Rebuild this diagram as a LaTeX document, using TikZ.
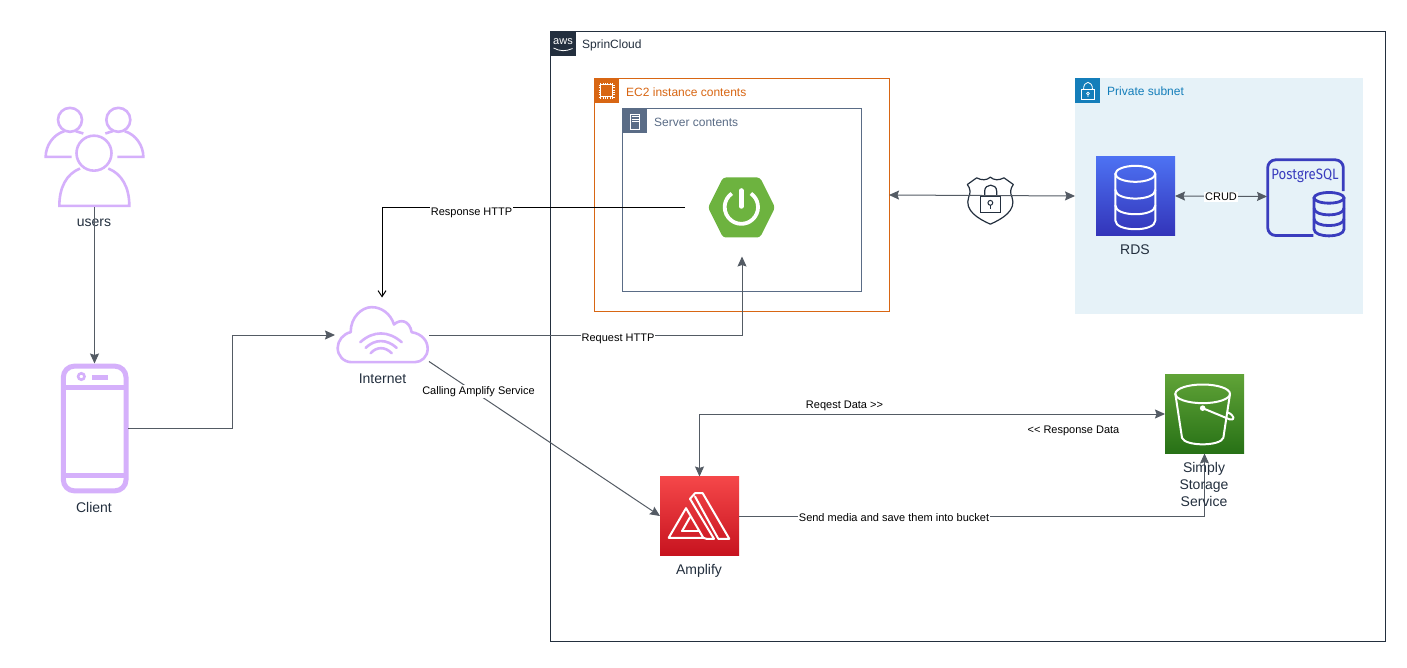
\documentclass[tikz,border=0pt]{standalone}
\usepackage{fontspec}
\setmainfont{Liberation Sans}
\newfontfamily\pgfont{Fira Sans}
\usetikzlibrary{arrows.meta}
\definecolor{lilac}{HTML}{D5B0FB}
\definecolor{edgec}{HTML}{545B64}
\definecolor{awsc}{HTML}{232F3E}
\definecolor{ec2c}{HTML}{D86613}
\definecolor{srvc}{HTML}{5A6C86}
\definecolor{subc}{HTML}{147EBA}
\definecolor{subbg}{HTML}{E6F2F8}
\definecolor{pgc}{HTML}{3A3DBE}
\definecolor{springc}{HTML}{6DB33F}
\newcommand{\fs}[1]{\fontsize{#1}{#1}\selectfont}
\tikzset{
  zoomat/.style 2 args={x=.33333pt,y=-.33333pt,xshift=#1pt,yshift=-#2pt},
  box/.style 2 args={inner sep=0pt,outer sep=0pt,minimum width=#1,minimum height=#2},
  label/.style={inner sep=0pt,text=awsc,font=\fs{14},align=center},
  elabel/.style={inner sep=1pt,text=black,font=\fs{11}},
  whitelabel/.style={elabel,fill=white},
  conn/.style={draw=edgec,line width=1pt,-{Stealth[length=10pt,width=9pt,inset=1.5pt]}},
  conn2/.style={draw=edgec,line width=1pt,{Stealth[length=10pt,width=9pt,inset=1.5pt]}-{Stealth[length=10pt,width=9pt,inset=1.5pt]}},
  respconn/.style={draw=black,line width=1pt,-{Straight Barb[length=6pt,width=8pt]}},
  lilacline/.style={draw=lilac,line width=2.6pt},
  whiteline/.style={draw=white,line width=2pt,line join=round,line cap=round},
  pgline/.style={draw=pgc,line width=2.8pt},
  groupbox/.style={draw=#1,line width=1pt,fill=none},
  tag/.style={minimum size=25pt,inner sep=0pt,outer sep=0pt,anchor=north west,fill=#1},
  grouptitle/.style={anchor=west,inner sep=0pt,font=\fs{12}}
}
\begin{document}
\begin{tikzpicture}[x=1pt,y=-1pt]
\useasboundingbox (0,-0.5) rectangle (1407,667.5);
\fill[white] (0,-0.5) rectangle (1407,667.5);

% ---- groups
\node[box={835pt}{610pt},groupbox=awsc] (aws) at (967.5,336) {};
\node[tag=awsc] (awstag) at (550.5,31) {};
\node[grouptitle,text=awsc] (awstitle) at (582,45) {SprinCloud};
\node[inner sep=0pt,text=white,font=\fs{11}] (awslogo) at (563,41) {aws};
\draw[white,line width=.8pt] (553.5,47.5) .. controls (560,51) and (566,51) .. (572.5,48);

\node[box={295pt}{233pt},groupbox=ec2c] (ec2) at (741.5,194.5) {};
\node[tag=ec2c] (ec2tag) at (594,78) {};
\node[grouptitle,text=ec2c] (ec2title) at (626,91.5) {EC2 instance contents};
\draw[white,line width=1pt] (600.5,84.5) rectangle (612.5,96.5);
\foreach \p in {0,2.4,4.8,7.2,9.6,12}{
  \draw[white,line width=.5pt] (600.5+\p,82.5) -- (600.5+\p,84.5) (600.5+\p,96.5) -- (600.5+\p,98.5)
    (598.5,84.5+\p) -- (600.5,84.5+\p) (612.5,84.5+\p) -- (614.5,84.5+\p);}

\node[box={239pt}{183pt},groupbox=srvc] (server) at (741.5,199.5) {};
\node[tag=srvc] (servertag) at (622,108) {};
\node[grouptitle,text=srvc] (servertitle) at (654,121.5) {Server contents};
\draw[white,line width=.8pt] (630.5,113.5) rectangle (639.5,129);
\foreach \p in {116,118.5,121}{\draw[white,line width=.6pt] (631.5,\p) -- (638.5,\p);}

\node[box={288pt}{235pt},fill=subbg] (subnet) at (1219,195.5) {};
\node[tag=subc] (subnettag) at (1075,78) {};
\node[grouptitle,text=subc] (subnettitle) at (1107,90.5) {Private subnet};
\draw[white,line width=.8pt] (1081.5,89) rectangle (1094.5,98.5);
\draw[white,line width=.8pt] (1083.5,89) .. controls (1083.5,79.5) and (1092.5,79.5) .. (1092.5,89);
\draw[white,line width=.7pt] (1088,93) circle (1.3pt) (1088,94.3) -- (1088,96.5);

% ---- icon nodes (bounding boxes)
\node[box={99pt}{100pt}] (users) at (94.5,157) {};
\node[box={67pt}{130pt}] (client) at (94.5,428) {};
\node[box={94pt}{57pt}] (internet) at (382,334.5) {};
\node[box={114pt}{98pt}] (spring) at (742,207) {};
\node[box={79pt}{79pt},shade,top color={rgb,255:red,245;green,71;blue,73},bottom color={rgb,255:red,199;green,19;blue,31}] (amplify) at (699.5,515.5) {};
\node[box={79pt}{79pt},shade,top color={rgb,255:red,96;green,163;blue,55},bottom color={rgb,255:red,39;green,113;blue,22}] (s3) at (1204.5,413.5) {};
\node[box={79pt}{79pt},shade,top color={rgb,255:red,77;green,114;blue,243},bottom color={rgb,255:red,51;green,52;blue,185}] (rds) at (1135.5,195.5) {};
\node[box={78pt}{78pt}] (pg) at (1306,196) {};

% ---- users icon
\begin{scope}[zoomat={30}{90}]
  \draw[lilacline] (120,88) circle (12pt) (265,88) circle (12pt) (192,188) circle (17.5pt);
  \draw[lilacline] (125,199) -- (47,199) .. controls (47,165) and (70,132) .. (103,122);
  \draw[lilacline] (137,122) -- (160,129);
  \draw[lilacline] (262,199) -- (340,199) .. controls (340,165) and (317,132) .. (284,122);
  \draw[lilacline] (248,122) -- (226,129);
  \draw[lilacline] (150,234) .. controls (110,250) and (88,290) .. (88,346) -- (298,346) .. controls (298,290) and (275,250) .. (235,234);
\end{scope}

% ---- phone icon
\begin{scope}[zoomat={40}{350}]
  \draw[draw=lilac,line width=5pt,rounded corners=11pt] (70,47) rectangle (258,421);
  \draw[draw=lilac,line width=5pt] (70,110) -- (258,110) (70,375) -- (258,375);
  \draw[draw=lilac,line width=2.6pt] (124,78) circle (3.2pt);
  \fill[lilac] (156,72) rectangle (203,87);
\end{scope}

% ---- cloud icon
\begin{scope}[zoomat={320}{290}]
  \draw[lilacline,line join=round] (95,215) .. controls (70,215) and (53,195) .. (53,172)
    .. controls (53,150) and (70,130) .. (92,125)
    .. controls (92,80) and (125,50) .. (155,50)
    .. controls (185,50) and (212,70) .. (222,102)
    .. controls (240,85) and (268,88) .. (275,125)
    .. controls (305,130) and (323,150) .. (323,175)
    .. controls (323,198) and (305,215) .. (285,215) -- cycle;
  \draw[lilacline,line cap=round] (121,155) .. controls (160,120) and (205,120) .. (245,155);
  \draw[lilacline,line cap=round] (137,172) .. controls (165,145) and (200,145) .. (230,172);
  \draw[lilacline,line cap=round] (152,188) .. controls (170,168) and (195,168) .. (215,188);
\end{scope}

% ---- spring icon
\fill[springc,rounded corners=3pt] (708,207) -- (723,177) -- (760,177) -- (775,207) -- (760,237) -- (723,237) -- cycle;
\begin{scope}[zoomat={540}{20}]
  \draw[white,line width=3.8pt] (604,560) ++(-55:50) arc[start angle=-55,end angle=235,radius=50];
  \draw[white,line width=4.5pt,line cap=round] (604,510) -- (604,558);
\end{scope}

% ---- shield
\begin{scope}[zoomat={950}{70}]
  \draw[draw=awsc,line width=1.2pt,line join=round] (121,320) .. controls (110,330) and (95,330) .. (80,322)
    -- (52,342) .. controls (62,355) and (62,368) .. (56,380) .. controls (42,420) and (85,445) .. (121,461)
    .. controls (157,445) and (200,420) .. (186,380) .. controls (180,368) and (180,355) .. (190,342)
    -- (162,322) .. controls (147,330) and (132,330) .. (121,320) -- cycle;
  \draw[draw=awsc,line width=1.2pt] (92,378) rectangle (152,426);
  \draw[draw=awsc,line width=1.2pt] (104,378) -- (104,362) .. controls (104,338) and (140,338) .. (140,362) -- (140,378);
  \draw[draw=awsc,line width=1pt] (121,397) circle (2.4pt);
  \draw[draw=awsc,line width=1pt] (121,404) -- (121,416);
\end{scope}

% ---- RDS stack
\begin{scope}[zoomat={950}{70}]
  \draw[whiteline] (556,310) circle[x radius=60,y radius=24];
  \draw[whiteline] (496,310) -- (496,450) .. controls (496,485) and (616,485) .. (616,450) -- (616,310);
  \draw[whiteline] (496,358) .. controls (496,393) and (616,393) .. (616,358);
  \draw[whiteline] (496,405) .. controls (496,440) and (616,440) .. (616,405);
\end{scope}

% ---- PostgreSQL icon
\begin{scope}[zoomat={950}{70}]
  \draw[pgline,rounded corners=8pt] (1180,362) -- (1180,268) -- (953,268) -- (953,495) -- (1090,495);
  \node[inner sep=0pt,text=pgc,font=\pgfont\fs{15},xscale=.88] (pgname) at (1065,317) {PostgreSQL};
  \draw[pgline,fill=subbg] (1137,382) circle[x radius=45,y radius=16];
  \draw[pgline] (1092,382) -- (1092,476) .. controls (1092,503) and (1182,503) .. (1182,476) -- (1182,382);
  \draw[pgline] (1092,413) .. controls (1092,440) and (1182,440) .. (1182,413);
  \draw[pgline] (1092,445) .. controls (1092,472) and (1182,472) .. (1182,445);
\end{scope}

% ---- amplify logo
\begin{scope}[zoomat={640}{460}]
  \draw[whiteline] (86,232) -- (138,143) -- (190,232) -- cycle;
  \draw[whiteline] (126,212) -- (176,212);
  \draw[whiteline] (126,212) -- (150,170);
  \draw[whiteline] (150,115) -- (165,98) -- (188,98) -- (268,235) -- (235,235) -- (165,108);
  \draw[whiteline] (150,115) -- (222,235) -- (200,235) -- (190,232);
\end{scope}

% ---- s3 bucket
\begin{scope}[zoomat={1140}{360}]
  \draw[whiteline] (188,100) circle[x radius=82,y radius=28];
  \draw[whiteline] (106,100) -- (126,232) .. controls (135,258) and (241,258) .. (250,232) -- (270,100);
  \fill[white] (188,143) circle (2.8pt);
  \draw[whiteline] (188,143) -- (270,177) .. controls (285,180) and (285,165) .. (262,155);
\end{scope}

% ---- labels
\node[label] (userslabel) at (94,222) {users};
\node[label] (clientlabel) at (94,507) {Client};
\node[label] (internetlabel) at (382.5,378) {Internet};
\node[label] (rdslabel) at (1135,249) {RDS};
\node[label] (amplifylabel) at (699,570) {Amplify};

% ---- free connector ends
\coordinate (internetin) at (382,297);
\coordinate (internetlow) at (429,361);

% ---- connectors
\draw[conn] (users.south) -- (client.north);
\draw[conn] (client.east) -| (232,334.5) -- (internet.west);
\draw[conn] (internet.east) -| (spring.south);
\draw[respconn] (spring.west) -| (internetin);
\draw[conn] (internetlow) -- (amplify.west);
\draw[conn2] (amplify.north) |- (s3.west);
\draw[conn] (amplify.east) -| (s3.south);
\draw[conn2] (ec2.east) -- (subnet.west);
\draw[conn2] (rds.east) -- (pg.west);

% ---- s3 label above connector
\node[label,text=awsc] (s3label) at (1204,484) {Simply\\[3pt]Storage\\[3pt]Service};

% ---- connector labels
\node[whitelabel] (lresp) at (471.5,212) {Response HTTP};
\node[whitelabel] (lreq) at (618,338) {Request HTTP};
\node[whitelabel] (lcall) at (478.5,391) {Calling Amplify Service};
\node[whitelabel] (lsend) at (894,517.5) {Send media and save them into bucket};
\node[whitelabel] (lcrud) at (1221,196.5) {CRUD};
\node[elabel] (lreq2) at (844.5,405) {Reqest Data >{}>};
\node[elabel] (lresp2) at (1073.5,430) {<{}< Response Data};
\end{tikzpicture}
\end{document}
